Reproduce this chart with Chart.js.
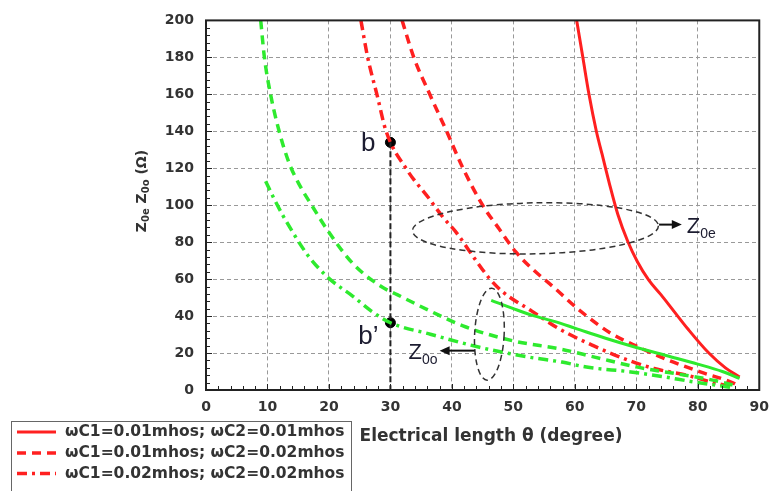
<!DOCTYPE html>
<html lang="en">
<head>
    <meta charset="UTF-8">
    <title>Z0e / Z0o x Electrical length</title>
    <script src="https://cdn.jsdelivr.net/npm/chart.js"></script>
    <style>
        html, body { margin: 0; padding: 0; background: #fff; }
        #caixa { width: 778px; height: 491px; }
    </style>
</head>
<body>
<div id="caixa"><canvas id="myChart" width="778" height="491"></canvas></div>

<script>
    // eixos
    const xTicks = [0, 10, 20, 30, 40, 50, 60, 70, 80, 90];
    const yTicks = [0, 20, 40, 60, 80, 100, 120, 140, 160, 180, 200];

    const legendas = [
        'ωC1=0.01mhos; ωC2=0.01mhos',
        'ωC1=0.01mhos; ωC2=0.02mhos',
        'ωC1=0.02mhos; ωC2=0.02mhos'
    ];

    // Z0e (vermelho)
    const zeAx = [60.3, 61.3, 62.3, 63.5, 64.4, 65.6, 67.0, 68.6, 70.2, 72.0, 74.0, 76.1, 78.4, 81.8, 84.5, 86.8];
    const zeAy = [200, 180, 160, 140, 128, 112, 95, 80.5, 69.3, 59.6, 51.6, 42.7, 33, 20, 12, 7];

    const zeBx = [31.9, 33.8, 36.4, 39.2, 41.8, 45.0, 47.7, 50.4, 53.0, 56.6, 60.6, 65.7, 70.5, 75.3, 80.4, 85.7, 86.5];
    const zeBy = [200, 180, 160, 139.6, 120, 100, 87.1, 74.7, 65.8, 55.5, 43.6, 31, 23, 16, 9.8, 3.9, 2.5];

    const zeCx = [25.2, 26.3, 27.8, 29.3, 32.7, 36.2, 38.6, 40.7, 43.7, 46.1, 48.2, 53.0, 57.5, 63.0, 68.1, 72.9, 78.2, 83.0, 86.0];
    const zeCy = [200, 180, 160, 140, 119.1, 104, 93.3, 85.3, 71.1, 60.4, 53.3, 42.7, 33, 24, 16.9, 11.6, 8, 3.6, 1.5];

    // Z0o (verde)
    const zoAx = [46.4, 50, 53, 56.8, 60, 65, 70, 75, 80, 84, 86.8];
    const zoAy = [48.5, 44, 40.5, 37, 33.5, 28, 23, 18.5, 14, 10, 6.3];

    const zoBx = [8.9, 9.5, 10.5, 11.9, 13.5, 15.2, 17.0, 20.0, 23.9, 28.5, 31.1, 36.5, 41.8, 49.8, 57.9, 63.2, 70.0, 77.0, 83.0, 86.5];
    const zoBy = [200, 180, 160, 140, 123, 111, 101, 85.3, 68.4, 56, 51.6, 42.7, 34.7, 26.7, 22.0, 17.8, 12.5, 8.5, 5, 2];

    const zoCx = [9.7, 11.0, 12.5, 14.0, 15.5, 17.0, 20.0, 23.9, 26.9, 30.0, 36.5, 44.5, 52.5, 57.9, 61.9, 69.1, 74.5, 79.3, 84.6, 86.0];
    const zoCy = [113, 104, 94.5, 86, 78, 71, 60.4, 50.7, 42.7, 36.4, 30.2, 23.1, 17.8, 15.1, 12.4, 9.8, 7.1, 4.4, 1.8, 1];

    // pontos b e b'
    const pontosX = [30, 30];
    const pontosY = [134, 36.4];
    const pontosNome = ['b', 'b’'];

    const vermelho = '#ff2020';
    const verde = '#2eea2e';
    const tracejado = [9, 6];
    const tracoPonto = [10, 5, 3, 5];

    function pares(xs, ys) {
        return xs.map(function (x, i) { return { x: x, y: ys[i] }; });
    }

    function linha(xs, ys, cor, dash, largura) {
        return {
            data: pares(xs, ys),
            showLine: true,
            borderColor: cor,
            borderWidth: largura,
            borderDash: dash,
            borderCapStyle: 'butt',
            pointRadius: 0,
            cubicInterpolationMode: 'monotone',
            fill: false
        };
    }

    const datasets = [
        linha(zoAx, zoAy, verde, [], 3),
        linha(zoBx, zoBy, verde, tracejado, 3.5),
        linha(zoCx, zoCy, verde, tracoPonto, 3.5),
        linha(zeAx, zeAy, vermelho, [], 3),
        linha(zeBx, zeBy, vermelho, tracejado, 3.5),
        linha(zeCx, zeCy, vermelho, tracoPonto, 3.5),
        // linha vertical tracejada em theta = 30
        {
            data: [{ x: pontosX[0], y: pontosY[0] }, { x: pontosX[0], y: 0 }],
            showLine: true, borderColor: '#222', borderWidth: 2, borderDash: [6, 3], pointRadius: 0
        },
        {
            data: pares(pontosX, pontosY),
            showLine: false, pointRadius: 5, pointBackgroundColor: '#000', pointBorderColor: '#000'
        }
    ];
    const legendaIdx = [3, 4, 5];

    const fonteTick = { family: '"DejaVu Sans"', size: 14, weight: 'bold' };

    // desenha moldura, ticks menores, titulos, anotacoes e legenda
    const extras = {
        id: 'extras',
        afterDatasetsDraw(chart) {
            const ctx = chart.ctx;
            const a = chart.chartArea;
            const sx = chart.scales.x, sy = chart.scales.y;
            const px = v => sx.getPixelForValue(v);
            const py = v => sy.getPixelForValue(v);

            ctx.save();
            // ticks menores para dentro
            ctx.strokeStyle = '#222';
            ctx.lineWidth = 1;
            ctx.beginPath();
            for (let v = 0; v <= 90; v += 2) {
                const x = Math.round(px(v)) + 0.5;
                const l = v % 10 === 0 ? 6 : 4;
                ctx.moveTo(x, a.bottom); ctx.lineTo(x, a.bottom - l);
            }
            for (let v = 0; v <= 200; v += 4) {
                const y = Math.round(py(v)) + 0.5;
                const l = v % 20 === 0 ? 6 : 4;
                ctx.moveTo(a.left, y); ctx.lineTo(a.left + l, y);
            }
            ctx.stroke();

            // moldura
            ctx.strokeStyle = '#222';
            ctx.lineWidth = 2;
            ctx.strokeRect(a.left, a.top, a.right - a.left, a.bottom - a.top);

            // elipses
            ctx.setLineDash([6, 4]);
            ctx.lineWidth = 1.5;
            ctx.strokeStyle = '#333';
            ctx.beginPath();
            ctx.ellipse(px(53.6), py(87.5), px(73.6) - px(53.6), py(87.5) - py(101.3), -0.02, 0, Math.PI * 2);
            ctx.stroke();
            ctx.beginPath();
            ctx.ellipse(px(46.1), py(30.2), px(48.5) - px(46.1), py(30.2) - py(55.1), 0.05, 0, Math.PI * 2);
            ctx.stroke();
            ctx.setLineDash([]);

            // setas
            function seta(x1, y, x2) {
                const d = x2 > x1 ? 1 : -1;
                ctx.strokeStyle = '#111';
                ctx.fillStyle = '#111';
                ctx.lineWidth = 2;
                ctx.beginPath();
                ctx.moveTo(x1, y); ctx.lineTo(x2 - d * 8, y);
                ctx.stroke();
                ctx.beginPath();
                ctx.moveTo(x2, y); ctx.lineTo(x2 - d * 10, y - 4.5); ctx.lineTo(x2 - d * 10, y + 4.5);
                ctx.closePath();
                ctx.fill();
            }
            seta(px(73.7), py(89.5), px(77.4));
            seta(px(43.7), py(21.3), px(38));

            function rotuloZ(x, y, sub, alinhar) {
                ctx.fillStyle = '#1c1c30';
                ctx.textBaseline = 'alphabetic';
                ctx.textAlign = 'left';
                ctx.font = '22px "Liberation Sans"';
                const wz = ctx.measureText('Z').width;
                ctx.font = '14px "Liberation Sans"';
                const ws = ctx.measureText(sub).width;
                let x0 = alinhar === 'right' ? x - wz - ws : x;
                ctx.font = '22px "Liberation Sans"';
                ctx.fillText('Z', x0, y + 8);
                ctx.font = '14px "Liberation Sans"';
                ctx.fillText(sub, x0 + wz, y + 13);
            }
            rotuloZ(px(77.4) + 5, py(89.5), '0e', 'left');
            rotuloZ(px(38) - 2, py(21.3), '0o', 'right');

            // nomes dos pontos
            ctx.fillStyle = '#1c1c30';
            ctx.font = '26px "Liberation Sans"';
            ctx.textAlign = 'right';
            ctx.textBaseline = 'middle';
            ctx.fillText(pontosNome[0], px(pontosX[0]) - 15, py(pontosY[0]) + 1);
            ctx.fillText(pontosNome[1], px(pontosX[1]) - 12, py(pontosY[1]) + 14);

            // titulo eixo x
            ctx.fillStyle = '#333';
            ctx.font = 'bold 17px "DejaVu Sans"';
            ctx.textAlign = 'center';
            ctx.textBaseline = 'middle';
            ctx.fillText('Electrical length θ (degree)', 491, 437);

            // titulo eixo y com subscritos
            const partes = [['Z', 14, 0], ['0e', 10, 1], [' Z', 14, 0], ['0o', 10, 1], [' (Ω)', 14, 0]];
            ctx.translate(141, 191);
            ctx.rotate(-Math.PI / 2);
            ctx.textAlign = 'left';
            ctx.textBaseline = 'alphabetic';
            let total = 0;
            partes.forEach(p => { ctx.font = 'bold ' + p[1] + 'px "DejaVu Sans"'; total += ctx.measureText(p[0]).width; });
            let cx = -total / 2;
            partes.forEach(p => {
                ctx.font = 'bold ' + p[1] + 'px "DejaVu Sans"';
                ctx.fillText(p[0], cx, p[2] ? 8 : 5);
                cx += ctx.measureText(p[0]).width;
            });
            ctx.setTransform(1, 0, 0, 1, 0, 0);

            // legenda
            ctx.strokeStyle = '#666';
            ctx.lineWidth = 1;
            ctx.strokeRect(11.5, 421.5, 340, 80);
            const linhasY = [432, 453, 473.5];
            legendaIdx.forEach(function (idx, i) {
                const ds = chart.data.datasets[idx];
                ctx.strokeStyle = ds.borderColor;
                ctx.lineWidth = ds.borderWidth;
                ctx.setLineDash(ds.borderDash);
                ctx.beginPath();
                ctx.moveTo(17, linhasY[i]); ctx.lineTo(56, linhasY[i]);
                ctx.stroke();
                ctx.setLineDash([]);
                ctx.fillStyle = '#333';
                ctx.font = 'bold 15.5px "DejaVu Sans"';
                ctx.textAlign = 'left';
                ctx.textBaseline = 'middle';
                ctx.fillText(legendas[i], 65, linhasY[i]);
            });
            ctx.restore();
        }
    };

    const config = {
        type: 'scatter',
        data: { datasets: datasets },
        options: {
            responsive: false,
            animation: false,
            devicePixelRatio: 1,
            layout: { padding: { top: 15, right: 11, left: 0, bottom: 0 } },
            plugins: { legend: { display: false }, tooltip: { enabled: false } },
            scales: {
                x: {
                    type: 'linear', min: 0, max: 90,
                    afterFit: function (s) { s.height = 101; },
                    afterBuildTicks: function (s) { s.ticks = xTicks.map(v => ({ value: v })); },
                    ticks: { font: fonteTick, color: '#333', padding: 9 },
                    grid: { color: '#999', lineWidth: 1, drawTicks: false },
                    border: { display: false, dash: [4, 3] }
                },
                y: {
                    type: 'linear', min: 0, max: 200,
                    afterFit: function (s) { s.width = 206; },
                    afterBuildTicks: function (s) { s.ticks = yTicks.map(v => ({ value: v })); },
                    ticks: { font: fonteTick, color: '#333', padding: 12 },
                    grid: { color: '#999', lineWidth: 1, drawTicks: false },
                    border: { display: false, dash: [4, 3] }
                }
            }
        },
        plugins: [extras]
    };

    let myChart = new Chart(document.getElementById('myChart'), config);
</script>
</body>
</html>
